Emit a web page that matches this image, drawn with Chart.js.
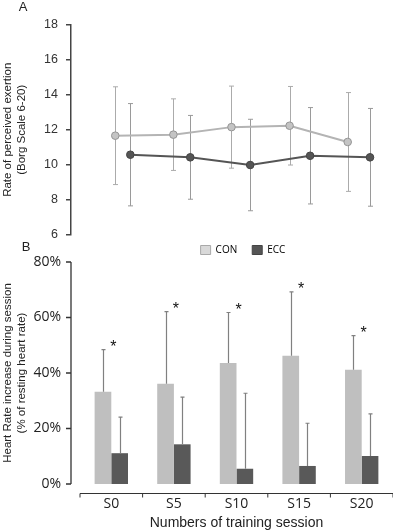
<!DOCTYPE html>
<html><head><meta charset="utf-8">
<script src="https://cdn.jsdelivr.net/npm/chart.js@4.4.0/dist/chart.umd.min.js"></script>
<style>
html,body{margin:0;padding:0;background:#fff;width:393px;height:532px;overflow:hidden}
#wa{position:absolute;left:0;top:0;width:393px;height:250px}
#wb{position:absolute;left:0;top:227px;width:393px;height:305px}
canvas{display:block}
</style></head><body>
<div id="wa"><canvas id="ca" width="393" height="250"></canvas></div>
<div id="wb"><canvas id="cb" width="393" height="305"></canvas></div>
<script>
// ---- data ----
const sessions = ['S0', 'S5', 'S10', 'S15', 'S20'];
const groups = ['CON', 'ECC'];
const rpeCon = [11.66, 11.72, 12.15, 12.23, 11.3];
const rpeConSD = [2.8, 2.05, 2.35, 2.25, 2.83];
const rpeEcc = [10.57, 10.42, 9.98, 10.51, 10.42];
const rpeEccSD = [2.93, 2.4, 2.62, 2.76, 2.8];
const hrCon = [33.2, 36.1, 43.6, 46.2, 41.2];
const hrConSD = [15.2, 26.0, 18.2, 23.0, 12.3];
const hrEcc = [11.1, 14.3, 5.5, 6.5, 10.1];
const hrEccSD = [13.0, 17.0, 27.2, 15.4, 15.2];
const significant = [true, true, true, true, true];
const rpeRange = [6, 18, 2];
const hrRange = [0, 80, 20];

const SANS = '"Liberation Sans", Arial, sans-serif';
const OPEN = '"Open Sans", sans-serif';

const letter = (txt, x, y) => ({
  id: 'letter' + txt,
  afterDraw(chart) {
    const c = chart.ctx; c.save();
    c.font = '13px ' + SANS; c.fillStyle = '#222';
    c.textAlign = 'center'; c.textBaseline = 'middle';
    c.fillText(txt, x, y); c.restore();
  }
});

// ---- Panel A ----
const errA = {
  id: 'errA',
  beforeDatasetsDraw(chart) {
    const ctx = chart.ctx, y = chart.scales.y;
    chart.data.datasets.forEach((ds, di) => {
      const meta = chart.getDatasetMeta(di);
      ctx.save(); ctx.strokeStyle = ds.errColor; ctx.lineWidth = 1;
      meta.data.forEach((pt, i) => {
        const v = ds.data[i].y, s = ds.sd[i];
        const yt = y.getPixelForValue(v + s), yb = y.getPixelForValue(v - s);
        const x = Math.round(pt.x) + 0.5;
        ctx.beginPath();
        ctx.moveTo(x, yt); ctx.lineTo(x, yb);
        ctx.moveTo(x - 2.5, yt); ctx.lineTo(x + 2.5, yt);
        ctx.moveTo(x - 2.5, yb); ctx.lineTo(x + 2.5, yb);
        ctx.stroke();
      });
      ctx.restore();
    });
  }
};

new Chart(document.getElementById('ca'), {
  type: 'line',
  data: {
    datasets: [
      { label: groups[0], data: rpeCon.map((v, i) => ({ x: i, y: v })), sd: rpeConSD, xAxisID: 'xCon',
        borderColor: '#b4b4b4', backgroundColor: '#c4c4c4', pointBackgroundColor: '#c4c4c4',
        pointBorderColor: '#959595', borderWidth: 2, pointRadius: 3.8, pointBorderWidth: 1,
        errColor: '#ababab', tension: 0 },
      { label: groups[1], data: rpeEcc.map((v, i) => ({ x: i, y: v })), sd: rpeEccSD, xAxisID: 'xEcc',
        borderColor: '#555555', backgroundColor: '#555555', pointBackgroundColor: '#555555',
        pointBorderColor: '#444444', borderWidth: 2, pointRadius: 3.8, pointBorderWidth: 1,
        errColor: '#9a9a9a', tension: 0 }
    ]
  },
  options: {
    responsive: false, devicePixelRatio: 1, animation: false,
    layout: { padding: { left: 0, right: 8, top: 25, bottom: 13 } },
    plugins: { legend: { display: false }, tooltip: { enabled: false } },
    scales: {
      xCon: { type: 'linear', display: false, min: -0.762, max: 4.642 },
      xEcc: { type: 'linear', display: false, min: -0.99, max: 4.25 },
      y: {
        min: rpeRange[0], max: rpeRange[1],
        ticks: { stepSize: rpeRange[2], padding: 8, color: '#333', font: { family: SANS, size: 12.5 } },
        grid: { drawOnChartArea: false, drawTicks: true, tickLength: 5, color: '#444', lineWidth: 1.5 },
        border: { display: true, color: '#444', width: 1.5 },
        title: { display: true, text: ['Rate of perceived exertion', '(Borg Scale 6-20)'], color: '#222',
          font: { family: SANS, size: 11.5, lineHeight: 1.2 }, padding: { top: 1, bottom: 0 } },
        afterFit(s) { s.width = 71; }
      }
    }
  },
  plugins: [errA, letter('A', 23, 7)]
});

// ---- Panel B ----
const errB = {
  id: 'errB',
  afterDatasetsDraw(chart) {
    const ctx = chart.ctx, y = chart.scales.y;
    chart.data.datasets.forEach((ds, di) => {
      const meta = chart.getDatasetMeta(di);
      ctx.save(); ctx.strokeStyle = '#808080'; ctx.lineWidth = 1.2;
      meta.data.forEach((bar, i) => {
        const top = y.getPixelForValue(ds.data[i] + ds.sd[i]);
        const x = Math.round(bar.x) + 0.5;
        ctx.beginPath();
        ctx.moveTo(x, bar.y); ctx.lineTo(x, top);
        ctx.moveTo(x - 2, top); ctx.lineTo(x + 2, top);
        ctx.stroke();
      });
      ctx.restore();
    });
  }
};

const axesB = {
  id: 'axesB',
  afterDraw(chart) {
    const { ctx, chartArea, scales: { x, y } } = chart;
    ctx.save();
    ctx.strokeStyle = '#333'; ctx.lineWidth = 1.3;
    const ax = chartArea.left - 9;
    ctx.beginPath();
    ctx.moveTo(ax, y.getPixelForValue(hrRange[1])); ctx.lineTo(ax, y.getPixelForValue(hrRange[0]));
    y.ticks.forEach(t => { const py = y.getPixelForValue(t.value); ctx.moveTo(ax - 5, py); ctx.lineTo(ax, py); });
    ctx.stroke();
    const n = sessions.length, w = (x.right - x.left) / n;
    const ay = Math.round(chartArea.bottom + 9) + 0.5;
    ctx.lineWidth = 1; ctx.strokeStyle = '#333';
    ctx.beginPath();
    const x0 = x.getPixelForValue(0) - w / 2, x1 = x.getPixelForValue(n - 1) + w / 2;
    ctx.moveTo(x0, ay); ctx.lineTo(x1, ay);
    for (let i = 0; i <= n; i++) { const px = x0 + i * w; ctx.moveTo(px, ay); ctx.lineTo(px, ay + 4); }
    ctx.stroke();
    // significance asterisks
    ctx.fillStyle = '#111'; ctx.font = '16px ' + SANS; ctx.textAlign = 'center'; ctx.textBaseline = 'alphabetic';
    significant.forEach((s, i) => {
      if (!s) return;
      const py = y.getPixelForValue(hrCon[i] + hrConSD[i]);
      ctx.fillText('*', x.getPixelForValue(i) + 2, py + 2);
    });
    ctx.restore();
  }
};

const legendShift = {
  id: 'legendShift',
  afterLayout(chart) {
    const l = chart.legend; if (!l) return;
    l.left += 6.5; l.right += 6.5; l.top += 3; l.bottom += 3;
  }
};

const legendFill = ['#d9d9d9', '#555555'];
const legendStroke = ['#a9a9a9', '#444444'];

new Chart(document.getElementById('cb'), {
  type: 'bar',
  data: {
    labels: sessions,
    datasets: [
      { label: groups[0], data: hrCon, sd: hrConSD, backgroundColor: '#bfbfbf', borderWidth: 0,
        categoryPercentage: 0.533, barPercentage: 1 },
      { label: groups[1], data: hrEcc, sd: hrEccSD, backgroundColor: '#595959', borderWidth: 0,
        categoryPercentage: 0.533, barPercentage: 1 }
    ]
  },
  options: {
    responsive: false, devicePixelRatio: 1, animation: false,
    layout: { padding: 0 },
    plugins: {
      tooltip: { enabled: false },
      legend: {
        display: true, position: 'top', fullSize: false, align: 'center',
        labels: {
          boxWidth: 10, boxHeight: 9, padding: 15, color: '#222', font: { family: OPEN, size: 10 },
          generateLabels(chart) {
            return chart.data.datasets.map((ds, i) => ({ text: ds.label, fillStyle: legendFill[i],
              strokeStyle: legendStroke[i], lineWidth: 1, hidden: false, datasetIndex: i }));
          }
        }
      }
    },
    scales: {
      x: {
        type: 'category', offset: true,
        grid: { display: false, drawTicks: false }, border: { display: false },
        ticks: { padding: 12, color: '#222', font: { family: OPEN, size: 14 } },
        title: { display: true, text: 'Numbers of training session', color: '#222',
          font: { family: SANS, size: 14 }, padding: { top: 0, bottom: 0 } },
        afterFit(s) { s.height = 48; }
      },
      y: {
        min: hrRange[0], max: hrRange[1],
        ticks: { stepSize: hrRange[2], padding: 19, color: '#222', font: { family: OPEN, size: 14 },
          callback: v => v + '%' },
        grid: { display: false, drawTicks: false }, border: { display: false },
        title: { display: true, text: ['Heart Rate increase during session', '(% of resting heart rate)'],
          color: '#222', font: { family: SANS, size: 11.5, lineHeight: 1.2 }, padding: { top: 1, bottom: 0 } },
        afterFit(s) { s.width = 80; }
      }
    }
  },
  plugins: [errB, axesB, legendShift, letter('B', 26, 20)]
});
</script>
</body></html>
